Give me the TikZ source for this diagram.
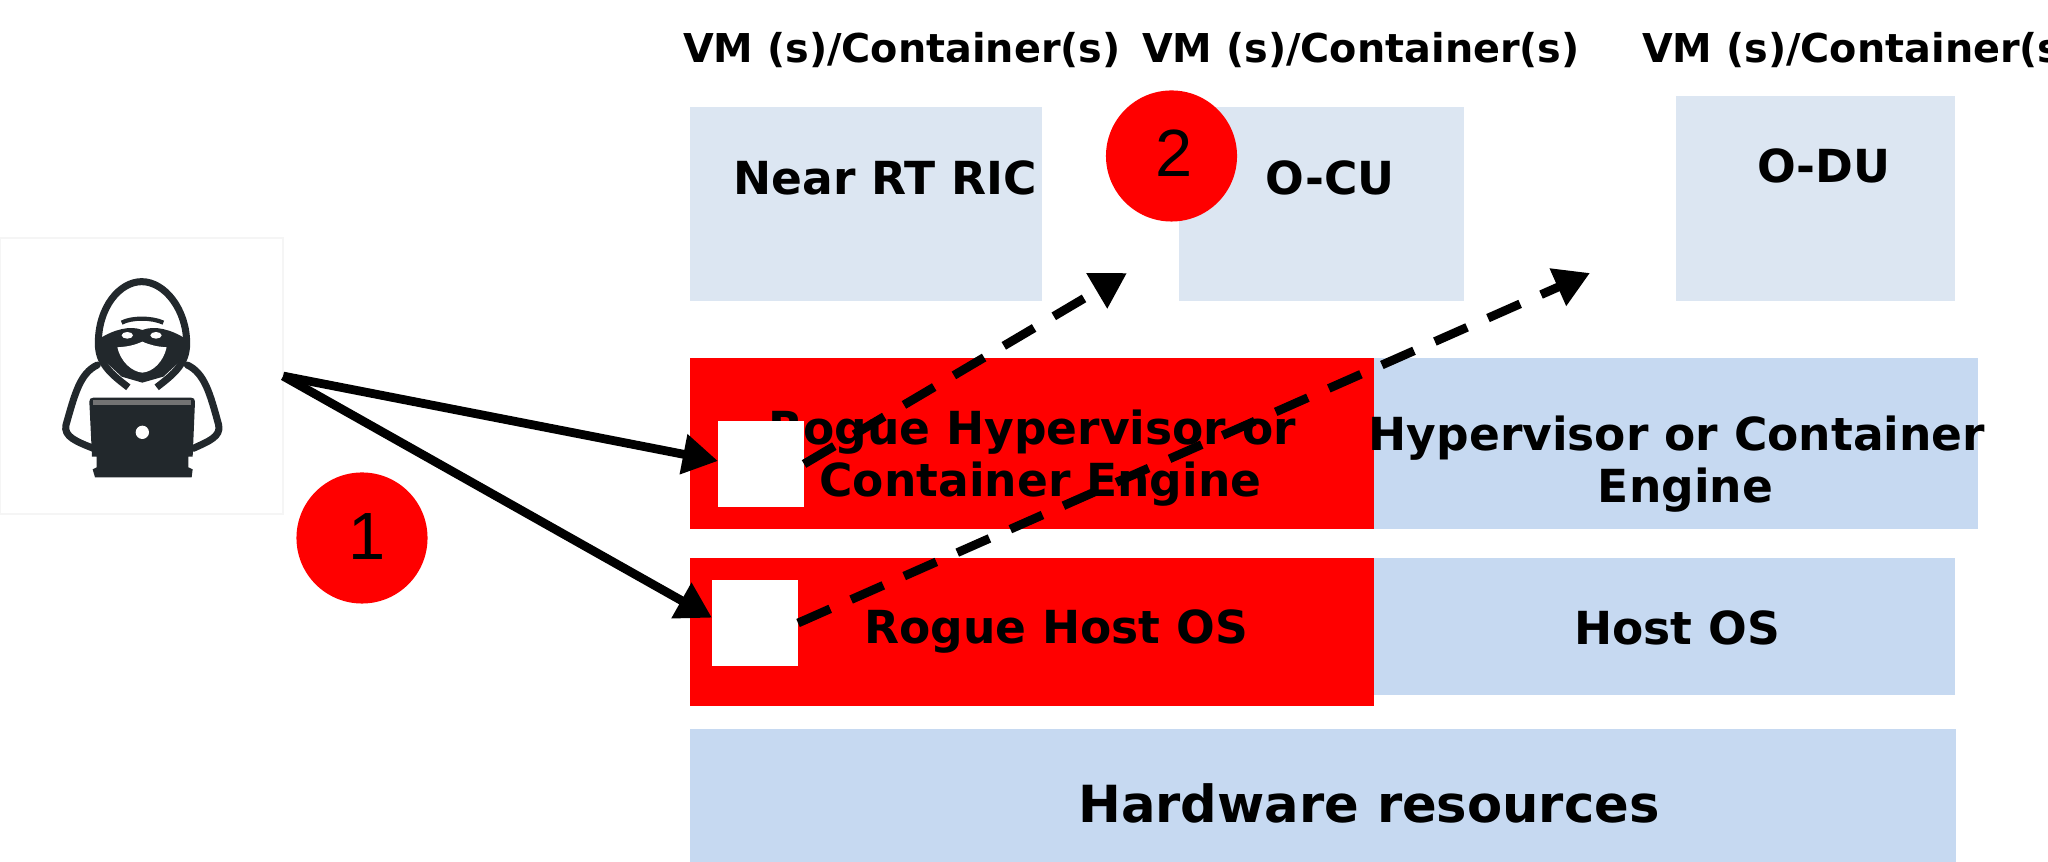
\documentclass[tikz,border=0pt]{standalone}
\usepackage{fontspec}
\setmainfont{DejaVu Sans}
\newfontfamily\numfont{Liberation Sans}
\usetikzlibrary{arrows.meta}
\definecolor{vmblue}{HTML}{DCE6F2}
\definecolor{layerblue}{HTML}{C6D9F1}
\definecolor{rogue}{HTML}{FF0000}
\definecolor{iconink}{HTML}{22282C}
\tikzset{
  block/.style={rectangle,inner sep=0pt,outer sep=0pt,anchor=north west},
  vmbox/.style={block,fill=vmblue},
  layerbox/.style={block,fill=layerblue},
  roguebox/.style={block,fill=rogue},
  implant/.style={block,fill=white,minimum width=0.86cm,minimum height=0.86cm},
  lbl/.style={font=\fontsize{12.95}{14.6}\selectfont\bfseries,align=center,inner sep=0pt},
  vmlbl/.style={font=\fontsize{11.3}{13}\selectfont\bfseries,inner sep=0pt},
  stepnum/.style={circle,fill=rogue,minimum size=1.31cm,inner sep=0pt},
  numlbl/.style={font=\fontsize{19}{21}\selectfont\numfont,inner sep=0pt},
  attack/.style={line width=2.5pt,-{Triangle[length=10pt,width=11pt]}},
  pivot/.style={line width=2.5pt,dash pattern=on 10pt off 6.5pt,-{Triangle[length=10pt,width=11pt]}},
}
\begin{document}
\begin{tikzpicture}[x=0.01cm,y=-0.01cm]
  \useasboundingbox (0,0) rectangle (2048,862);
  \clip (0,0) rectangle (2048,862);
  % attaquant
  \node[block,draw=black!4,line width=0.5pt,minimum width=2.83cm,minimum height=2.76cm]
  (hacker) at (0,238) {};
  \begin{scope}[x=0.01cm/3,y=-0.01cm/3,shift={(0,230*3)},line width=2pt,iconink]
    % epaules
    \draw[line cap=round] (292,405) .. controls (240,430) and (225,490) .. (198,585)
    .. controls (190,620) and (230,635) .. (280,655);
    \draw[line cap=round] (562,405) .. controls (614,430) and (630,490) .. (656,585)
    .. controls (664,620) and (624,635) .. (580,655);
    % capuche
    \draw (385,472) .. controls (330,430) and (295,400) .. (295,340)
    .. controls (295,230) and (360,155) .. (425,155)
    .. controls (495,155) and (560,240) .. (560,340)
    .. controls (560,400) and (525,430) .. (470,472);
    \fill (300,325) .. controls (340,300) and (390,285) .. (427,300)
    .. controls (465,285) and (515,300) .. (555,325)
    -- (555,380) -- (490,440) -- (427,458) -- (365,440) -- (300,380) -- cycle;
    \fill[white] (352,352) .. controls (385,350) and (405,345) .. (427,335)
    .. controls (450,345) and (470,350) .. (500,352)
    .. controls (490,395) and (460,425) .. (427,428)
    .. controls (395,425) and (362,395) .. (352,352) -- cycle;
    \fill[white] (382,316) ellipse (17 and 10);
    \fill[white] (468,316) ellipse (17 and 10);
    \draw[line width=1.2pt] (365,278) .. controls (395,262) and (455,262) .. (490,278);
    % portable
    \fill (268,515) .. controls (268,507) and (272,503) .. (280,503) -- (573,503)
    .. controls (581,503) and (585,507) .. (585,515) -- (578,680) -- (565,680)
    -- (565,712) -- (578,718) -- (575,742) -- (285,742) -- (278,718) -- (290,712)
    -- (290,680) -- (276,680) -- cycle;
    \fill[black!55] (280,510) rectangle (574,524);
    \fill[white] (427,607) circle (20);
  \end{scope}

  % machines virtuelles
  \node[vmbox,minimum width=3.52cm,minimum height=1.94cm] (nearrt) at (690,107) {};
  \node[vmbox,minimum width=2.85cm,minimum height=1.94cm] (ocu) at (1179,107) {};
  \node[vmbox,minimum width=2.79cm,minimum height=2.05cm] (odu) at (1676,96) {};
  \node[vmlbl] (vmnear) at (902,50) {VM (s)/Container(s)};
  \node[vmlbl] (vmcu) at (1361,50) {VM (s)/Container(s)};
  \node[vmlbl] (vmdu) at (1861,50) {VM (s)/Container(s)};
  \node[lbl] (nearrtlbl) at (885,178) {Near RT RIC};
  \node[lbl] (oculbl) at (1330,178) {O-CU};
  \node[lbl] (odulbl) at (1824,166) {O-DU};

  % couches
  \node[roguebox,minimum width=6.84cm,minimum height=1.71cm] (roguehyp) at (690,358) {};
  \node[layerbox,minimum width=6.04cm,minimum height=1.71cm] (hyp) at (1374,358) {};
  \node[roguebox,minimum width=6.84cm,minimum height=1.48cm] (roguehost) at (690,558) {};
  \node[layerbox,minimum width=5.81cm,minimum height=1.37cm] (host) at (1374,558) {};
  \node[layerbox,minimum width=12.65cm,minimum height=1.33cm] (hw) at (690,729) {};
  \node[lbl] (roguehyplbl) at (1032,458) {Rogue Hypervisor or\\\hspace{4.8pt}Container Engine};
  \node[lbl] (hyplbl) at (1677,464) {Hypervisor or Container\\\hspace{4.8pt}Engine};
  \node[lbl] (roguehostlbl) at (1056,632) {Rogue Host OS};
  \node[lbl] (hostlbl) at (1677,628) {Host OS};
  \node[lbl,font=\fontsize{14.55}{17}\selectfont\bfseries] (hwlbl) at (1369,803) {Hardware resources};

  % implants
  \node[implant] (implanthyp) at (718,421) {};
  \node[implant] (implanthost) at (712,580) {};

  % etapes
  \node[stepnum] (stepone) at (362,538) {};
  \node[stepnum] (steptwo) at (1171.5,156) {};
  \node[numlbl] (onelbl) at (367,537) {1};
  \node[numlbl] (twolbl) at (1174,153) {2};

  % fleches
  \coordinate (cuend) at (1127,273);
  \coordinate (duend) at (1590,273);
  \draw[attack] (hacker.east) -- (implanthyp.176);
  \draw[attack] (hacker.east) -- (implanthost.173);
  \draw[pivot] (implanthyp.east) -- (cuend);
  \draw[pivot] (implanthost.east) -- (duend);
\end{tikzpicture}
\end{document}
